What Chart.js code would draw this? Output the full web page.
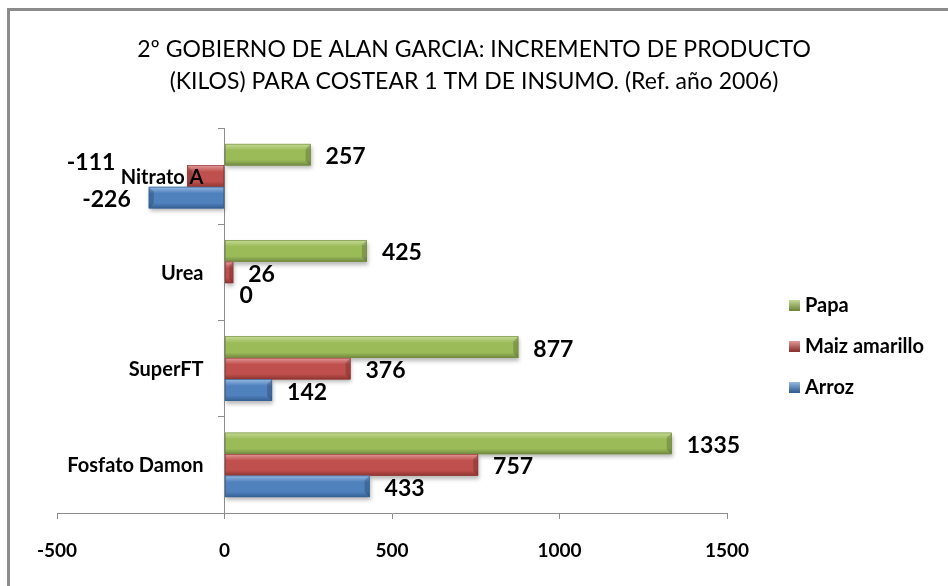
<!DOCTYPE html>
<html>
<head>
<meta charset="utf-8">
<script src="https://cdn.jsdelivr.net/npm/chart.js@4.4.1/dist/chart.umd.min.js"></script>
<style>
  html, body { margin: 0; padding: 0; background: #fff; overflow: hidden; }
  #frame { position: absolute; left: 7px; top: 8px; width: 1000px; height: 1000px; border: 3px solid #8c8c8c; box-sizing: border-box; }
  #wrap { position: absolute; left: 0; top: 0; width: 948px; height: 586px; }
</style>
</head>
<body>
<div id="frame"></div>
<div id="wrap"><canvas id="chart" width="948" height="586"></canvas></div>
<script>
const categories = ['Nitrato A', 'Urea', 'SuperFT', 'Fosfato Damon'];
const papa = [257, 425, 877, 1335];
const maizAmarillo = [-111, 26, 376, 757];
const arroz = [-226, 0, 142, 433];
const xTicks = [-500, 0, 500, 1000, 1500];

const FONT = "Lato, 'Open Sans', sans-serif";
const colors = {
    papa: { base: '#9bbb59', light: '#c6da97', dark: '#71893f' },
    maiz: { base: '#c0504d', light: '#e09a98', dark: '#8f3431' },
    arroz: { base: '#4f81bd', light: '#95b8e2', dark: '#345f92' }
};

// Excel style bevel: shadow under the bars, light/dark bands over them
const bevelPlugin = {
    id: 'bevel',
    beforeDatasetsDraw(chart) {
        const ctx = chart.ctx;
        ctx.save();
        ctx.shadowColor = 'rgba(0,0,0,0.28)';
        ctx.shadowBlur = 4;
        ctx.shadowOffsetX = 1;
        ctx.shadowOffsetY = 3;
    },
    afterDatasetsDraw(chart) {
        const ctx = chart.ctx;
        ctx.restore();
        chart.data.datasets.forEach((ds, i) => {
            chart.getDatasetMeta(i).data.forEach(bar => {
                const { x, y, base, height } = bar.getProps(['x', 'y', 'base', 'height'], true);
                const left = Math.min(x, base), w = Math.abs(x - base), top = y - height / 2;
                if (w < 1) return;
                const g = ctx.createLinearGradient(0, top, 0, top + height);
                g.addColorStop(0, ds.bevel.light);
                g.addColorStop(0.3, ds.bevel.base);
                g.addColorStop(0.75, ds.bevel.base);
                g.addColorStop(1, ds.bevel.dark);
                ctx.fillStyle = g;
                ctx.fillRect(left, top, w, height);
                // bevelled end cap
                const cap = Math.min(5, w / 2);
                const end = x >= base ? left + w : left;
                const dir = x >= base ? -1 : 1;
                ctx.fillStyle = 'rgba(0,0,0,0.18)';
                ctx.beginPath();
                ctx.moveTo(end, top);
                ctx.lineTo(end + dir * cap, top + cap);
                ctx.lineTo(end + dir * cap, top + height - cap);
                ctx.lineTo(end, top + height);
                ctx.closePath();
                ctx.fill();
                ctx.strokeStyle = ds.bevel.dark;
                ctx.lineWidth = 0.6;
                ctx.strokeRect(left + 0.3, top + 0.3, w - 0.6, height - 0.6);
            });
        });
    }
};

// category names left of the zero line, drawn over the bars like in Excel
const categoryLabels = {
    id: 'categoryLabels',
    afterDatasetsDraw(chart) {
        const ctx = chart.ctx, xs = chart.scales.x, ys = chart.scales.y;
        ctx.save();
        ctx.font = 'bold 20px ' + FONT;
        ctx.fillStyle = '#000';
        ctx.textAlign = 'right';
        ctx.textBaseline = 'middle';
        chart.data.labels.forEach((lab, i) => {
            ctx.fillText(lab, xs.getPixelForValue(0) - 21, ys.getPixelForValue(i) + 1);
        });
        ctx.restore();
    }
};

// value labels beside each bar end
const valueLabels = {
    id: 'valueLabels',
    afterDatasetsDraw(chart, args, opts) {
        const ctx = chart.ctx;
        ctx.save();
        ctx.font = 'bold 23px ' + FONT;
        ctx.fillStyle = '#000';
        ctx.textBaseline = 'middle';
        chart.data.datasets.forEach((ds, i) => {
            chart.getDatasetMeta(i).data.forEach((bar, j) => {
                const v = ds.data[j];
                const nudge = (opts.nudge || {})[i + '-' + j] || [0, 0];
                if (v >= 0) {
                    ctx.textAlign = 'left';
                    ctx.fillText(String(v), bar.x + 15 + nudge[0], bar.y + 2 + nudge[1]);
                } else {
                    ctx.textAlign = 'right';
                    ctx.fillText(String(v), bar.x - 18 + nudge[0], bar.y + 2 + nudge[1]);
                }
            });
        });
        ctx.restore();
    }
};

// legend on the right, same look as the original
const sideLegend = {
    id: 'sideLegend',
    afterDraw(chart) {
        const ctx = chart.ctx;
        ctx.save();
        ctx.font = 'bold 20px ' + FONT;
        ctx.textBaseline = 'middle';
        ctx.textAlign = 'left';
        chart.data.datasets.forEach((ds, i) => {
            const cy = 305 + i * 41;
            const g = ctx.createLinearGradient(0, cy - 5, 0, cy + 5);
            g.addColorStop(0, ds.bevel.light);
            g.addColorStop(1, ds.bevel.dark);
            ctx.fillStyle = g;
            ctx.fillRect(789, cy - 5, 11, 11);
            ctx.fillStyle = '#000';
            ctx.fillText(ds.label, 805, cy + 1);
        });
        ctx.restore();
    }
};

function dataset(label, data, c) {
    return { label, data, xAxisID: 'x', yAxisID: 'y', backgroundColor: c.base, borderWidth: 0, bevel: c,
             categoryPercentage: 0.67, barPercentage: 1 };
}

// empty boxes that keep room left of the plot and for the legend on the right
function spacer(position, width) {
    return { type: 'linear', position, display: true,
             grid: { display: false }, border: { display: false }, ticks: { display: false },
             afterFit: s => { s.width = width; } };
}

new Chart(document.getElementById('chart'), {
    type: 'bar',
    data: {
        labels: categories,
        datasets: [
            dataset('Papa', papa, colors.papa),
            dataset('Maiz amarillo', maizAmarillo, colors.maiz),
            dataset('Arroz', arroz, colors.arroz)
        ]
    },
    options: {
        indexAxis: 'y',
        responsive: false,
        animation: false,
        layout: { padding: 0 },
        plugins: {
            legend: { display: false },
            tooltip: { enabled: false },
            title: {
                display: true,
                text: ['2º GOBIERNO DE ALAN GARCIA: INCREMENTO DE PRODUCTO', '(KILOS) PARA COSTEAR 1 TM DE INSUMO. (Ref. año 2006)'],
                color: '#000',
                font: { family: FONT, size: 23, weight: 'normal', lineHeight: 32 / 23 },
                padding: { top: 34, bottom: 30 }
            },
            valueLabels: { nudge: { '1-0': [-54, -16] } }
        },
        scales: {
            x: {
                min: -500, max: 1500,
                afterBuildTicks: axis => { axis.ticks = xTicks.map(v => ({ value: v })); },
                afterFit: s => { s.height = 73; },
                grid: { drawOnChartArea: false, tickLength: 6, color: '#8c8c8c' },
                border: { color: '#8c8c8c' },
                ticks: { color: '#000', padding: 20, callback: v => String(v),
                         font: { family: FONT, size: 19, weight: 'bold' } }
            },
            y: {
                position: { x: 0 },
                offset: true,
                grid: { offset: true, drawOnChartArea: false, tickLength: 6, color: '#8c8c8c' },
                border: { color: '#8c8c8c' },
                ticks: { display: false }
            },
            padLeft: spacer('left', 57),
            padRight: spacer('right', 221)
        }
    },
    plugins: [bevelPlugin, categoryLabels, valueLabels, sideLegend]
});
</script>
</body>
</html>
